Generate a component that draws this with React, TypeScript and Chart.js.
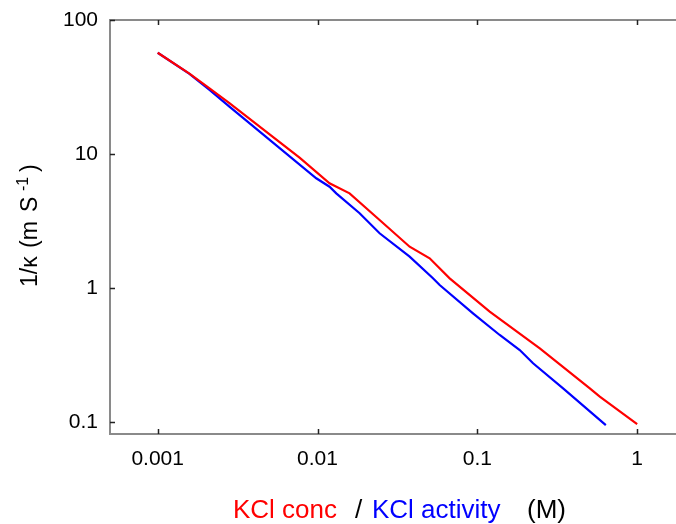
import React, { useEffect, useRef } from "react";
import { Chart, registerables } from "chart.js";

Chart.register(...registerables);

// KCl concentration (M) and 1/kappa (m S^-1)
const concX = [0.001, 0.00158, 0.00211, 0.00281, 0.00772, 0.01189, 0.01587, 0.02446, 0.03771, 0.05031, 0.06713, 0.1195, 0.2459, 0.5055, 0.5837, 1.0];
const concY = [57.0, 39.8, 30.9, 24.0, 9.40, 6.06, 5.10, 3.225, 2.039, 1.671, 1.185, 0.668, 0.3564, 0.1793, 0.1552, 0.0971];

// KCl activity (M) and 1/kappa (m S^-1)
const actX = [0.001, 0.00158, 0.00211, 0.00281, 0.00982, 0.01189, 0.0131, 0.01834, 0.02446, 0.03771, 0.05277, 0.05811, 0.09393, 0.138, 0.1842, 0.2232, 0.344, 0.6368];
const actY = [57.0, 39.6, 30.1, 22.6, 6.60, 5.71, 5.10, 3.62, 2.567, 1.718, 1.185, 1.056, 0.6497, 0.4477, 0.3459, 0.2754, 0.1793, 0.0954];

const xTicks = [0.001, 0.01, 0.1, 1];
const xTickLabels = ["0.001", "0.01", "0.1", "1"];
const yTicks = [0.1, 1, 10, 100];
const yTickLabels = ["0.1", "1", "10", "100"];

const FONT = "'Liberation Sans', Arial, sans-serif";

const framePlugin = {
  id: "frameAndTitles",
  afterDraw(chart: any) {
    const { ctx, chartArea } = chart;
    const { left, right, top, bottom } = chartArea;
    const xs = chart.scales.x;
    const ys = chart.scales.y;
    ctx.save();
    // frame
    ctx.strokeStyle = "#8a8a8a";
    ctx.lineWidth = 2;
    ctx.beginPath();
    ctx.moveTo(right, top);
    ctx.lineTo(left, top);
    ctx.lineTo(left, bottom);
    ctx.lineTo(right, bottom);
    ctx.stroke();
    // inside ticks
    ctx.strokeStyle = "#222";
    ctx.lineWidth = 1.5;
    ctx.beginPath();
    xTicks.forEach((v) => {
      const px = Math.round(xs.getPixelForValue(v)) + 0.5;
      ctx.moveTo(px, bottom);
      ctx.lineTo(px, bottom - 5);
      ctx.moveTo(px, top);
      ctx.lineTo(px, top + 5);
    });
    yTicks.forEach((v) => {
      const py = Math.round(ys.getPixelForValue(v)) + 0.5;
      ctx.moveTo(left, py);
      ctx.lineTo(left + 5, py);
    });
    ctx.stroke();

    // x title (multicolour)
    ctx.font = `26px ${FONT}`;
    ctx.textBaseline = "alphabetic";
    ctx.textAlign = "left";
    const by = 518;
    ctx.fillStyle = "#ff0000";
    ctx.fillText("KCl conc", 233, by);
    ctx.fillStyle = "#000";
    ctx.fillText("/", 355, by);
    ctx.fillStyle = "#0000ff";
    ctx.fillText("KCl activity", 372, by);
    ctx.fillStyle = "#000";
    ctx.fillText("(M)", 527, by);

    // y title rotated
    ctx.translate(37, 287);
    ctx.rotate(-Math.PI / 2);
    ctx.fillStyle = "#000";
    ctx.font = `23px ${FONT}`;
    ctx.fillText("1/\u03BA", 0, 0);
    ctx.fillText("(m", 39, 0);
    ctx.fillText("S", 75, 0);
    ctx.font = `16px ${FONT}`;
    ctx.fillText("-1", 96, -9);
    ctx.font = `23px ${FONT}`;
    ctx.fillText(")", 115, 0);
    ctx.restore();
  },
};

export default function App() {
  const ref = useRef<HTMLCanvasElement | null>(null);
  useEffect(() => {
    if (!ref.current) return;
    const chart = new Chart(ref.current, {
      type: "line",
      data: {
        datasets: [
          {
            label: "KCl conc",
            data: concX.map((x, i) => ({ x, y: concY[i] })),
            borderColor: "#ff0000",
            backgroundColor: "#ff0000",
            borderWidth: 2.2,
            pointRadius: 0,
            tension: 0,
          },
          {
            label: "KCl activity",
            data: actX.map((x, i) => ({ x, y: actY[i] })),
            borderColor: "#0000ff",
            backgroundColor: "#0000ff",
            borderWidth: 2.2,
            pointRadius: 0,
            tension: 0,
          },
        ],
      },
      options: {
        animation: false,
        responsive: false,
        maintainAspectRatio: false,
        layout: { padding: { top: 20, right: 0, bottom: 0, left: 0 } },
        plugins: { legend: { display: false }, tooltip: { enabled: false }, title: { display: false } },
        scales: {
          x: {
            type: "logarithmic",
            min: 0.000503,
            max: 1.75,
            grid: { display: false },
            border: { display: false },
            afterBuildTicks: (s: any) => {
              s.ticks = xTicks.map((v) => ({ value: v }));
            },
            afterFit: (s: any) => {
              s.height = 90;
            },
            ticks: {
              autoSkip: false,
              maxRotation: 0,
              padding: 5,
              color: "#000",
              font: { family: FONT, size: 21 },
              callback: (v: any) => {
                const i = xTicks.indexOf(Number(v));
                return i >= 0 ? xTickLabels[i] : "";
              },
            },
          },
          y: {
            type: "logarithmic",
            min: 0.0818,
            max: 100,
            grid: { display: false },
            border: { display: false },
            afterBuildTicks: (s: any) => {
              s.ticks = yTicks.map((v) => ({ value: v }));
            },
            afterFit: (s: any) => {
              s.width = 110;
            },
            ticks: {
              autoSkip: false,
              padding: 4,
              color: "#000",
              font: { family: FONT, size: 21 },
              callback: (v: any) => {
                const i = yTicks.indexOf(Number(v));
                return i >= 0 ? yTickLabels[i] : "";
              },
            },
          },
        },
      },
      plugins: [framePlugin],
    });
    return () => chart.destroy();
  }, []);
  return (
    <div style={{ position: "absolute", left: 0, top: 0, width: 676, height: 524, background: "#fff" }}>
      <canvas ref={ref} width={676} height={524} style={{ display: "block" }} />
    </div>
  );
}
